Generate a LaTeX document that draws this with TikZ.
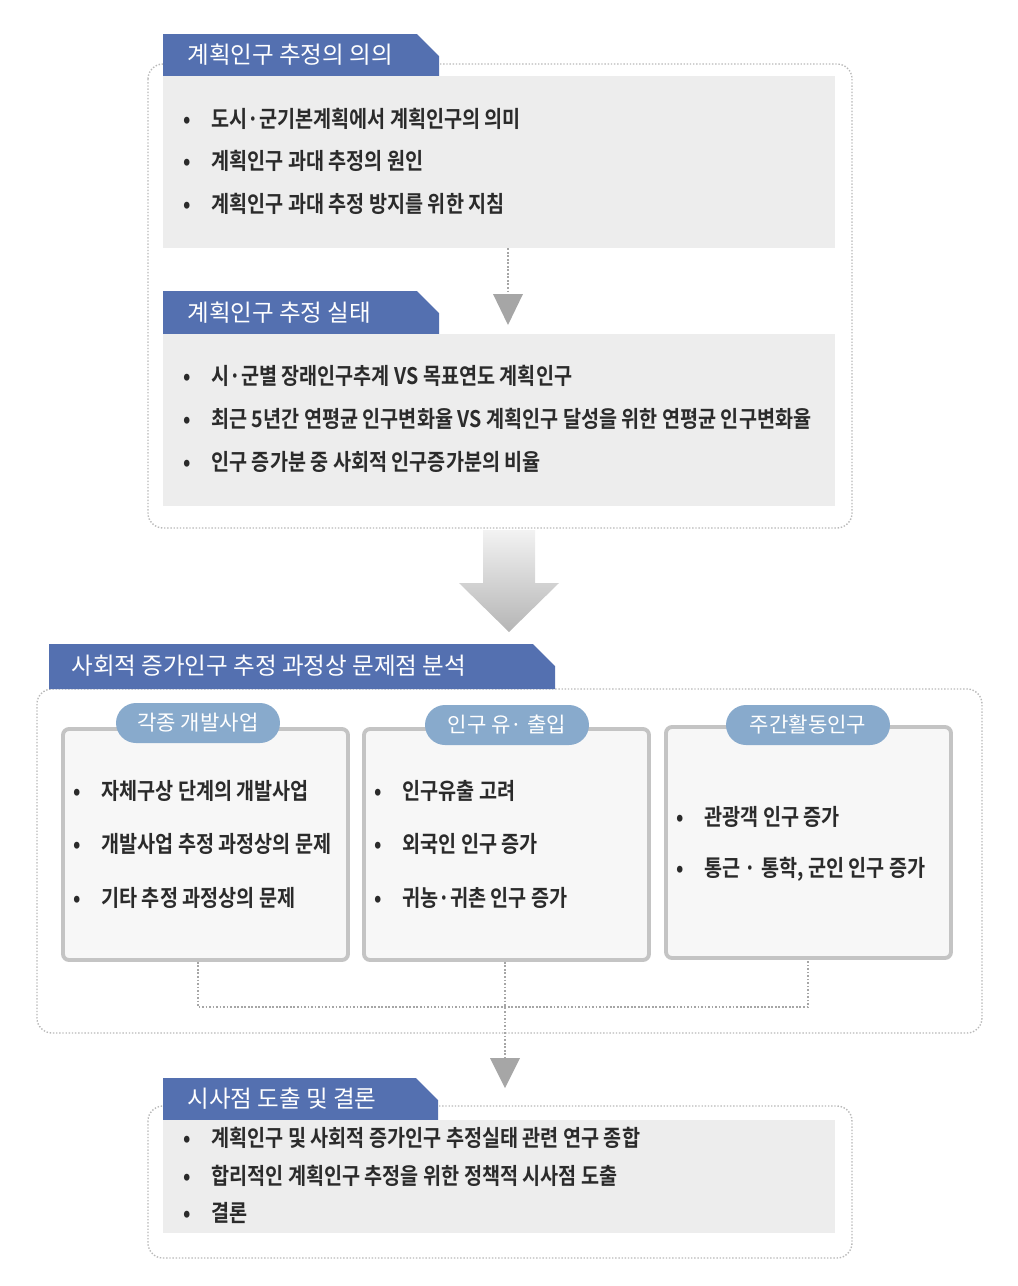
\documentclass[tikz,border=0pt]{standalone}
\usepackage{fontspec}
\setmainfont{Noto Sans CJK KR}
\newfontfamily\krbold{Noto Sans CJK KR Bold}[FakeStretch=0.86]
\usetikzlibrary{fit}
\definecolor{ink}{HTML}{2B2B2B}
\definecolor{hdblue}{HTML}{5470B0}
\definecolor{pillblue}{HTML}{88AACC}
\definecolor{panel}{HTML}{EDEDED}
\definecolor{boxln}{HTML}{C4C4C4}
\definecolor{tipgray}{HTML}{A6A6A6}
\newcommand{\itm}[1]{\makebox[0.56cm][l]{\textbullet}#1}

\begin{document}
\begin{tikzpicture}[x=0.02cm,y=-0.02cm,
  frame/.style={draw=gray!55,densely dotted,line width=0.8pt,rounded corners=0.3cm},
  tab/.style={fill=hdblue},
  tabtext/.style={anchor=west,inner sep=0pt,text=white,font=\fontsize{13.4}{15}\selectfont},
  panel/.style={fill=panel,inner sep=0pt},
  item/.style={anchor=west,inner sep=0pt,text=ink,font=\krbold\fontsize{13}{15}\selectfont},
  subbox/.style={draw=boxln,line width=2.2pt,fill=gray!6,rounded corners=0.12cm,inner sep=0pt},
  pill/.style={fill=pillblue,text=white,rounded corners=0.4cm,minimum width=3.28cm,minimum height=0.8cm,inner sep=0pt,font=\fontsize{12}{14}\selectfont},
  link/.style={draw=gray!70,densely dotted,line width=1pt},
  tip/.style={fill=tipgray}]
  \useasboundingbox (0,0) rectangle (1018,1286);
  % upper block
  \draw[frame] (148,64) rectangle (852,528);
  \fill[tab] (163,76) -- (163,34) -- (417,34) -- (439,56) -- (439,76) -- cycle;
  \node[tabtext] (h1) at (187,55) {계획인구 추정의 의의};
  \node[panel,fit={(163,76) (835,248)}] (p1) {};
  \node[item] (a1) at (183,119) {\itm{도시·군기본계획에서 계획인구의 의미}};
  \node[item] (a2) at (183,161) {\itm{계획인구 과대 추정의 원인}};
  \node[item] (a3) at (183,204) {\itm{계획인구 과대 추정 방지를 위한 지침}};
  \coordinate (t1) at (508,294);
  \draw[link] (t1 |- p1.south) -- (t1);
  \fill[tip] (t1) ++(-15,0) -- ++(30,0) -- ++(-15,31) -- cycle;
  \fill[tab] (163,334) -- (163,291) -- (417,291) -- (439,313) -- (439,334) -- cycle;
  \node[tabtext] (h2) at (187,313) {계획인구 추정 실태};
  \node[panel,fit={(163,334) (835,506)}] (p2) {};
  \node[item] (b1i) at (183,376) {\itm{시·군별 장래인구추계 VS 목표연도 계획인구}};
  \node[item] (b2i) at (183,419) {\itm{최근 5년간 연평균 인구변화율 VS 계획인구 달성을 위한 연평균 인구변화율}};
  \node[item] (b3i) at (183,462) {\itm{인구 증가분 중 사회적 인구증가분의 비율}};
  % big arrow
  \shade[top color=gray!10,bottom color=gray!58] (483,530) -- (535,530) -- (535,583) -- (559,583)
    -- (509,632) -- (459,583) -- (483,583) -- cycle;
  % middle block
  \draw[frame] (37,689) rectangle (982,1033);
  \fill[tab] (49,689) -- (49,644) -- (533,644) -- (555,666) -- (555,689) -- cycle;
  \node[tabtext] (h3) at (71,666) {사회적 증가인구 추정 과정상 문제점 분석};
  \node[subbox,fit={(63,729) (348,960)}] (b1) {};
  \node[subbox,fit={(364,729) (649,960)}] (b2) {};
  \node[subbox,fit={(666,727) (951,958)}] (b3) {};
  \node[pill] (pl1) at (198,723) {각종 개발사업};
  \node[pill] (pl2) at (507,725) {인구 유· 출입};
  \node[pill] (pl3) at (808,725) {주간활동인구};
  \node[item] (c1) at (73,791) {\itm{자체구상 단계의 개발사업}};
  \node[item] (c2) at (73,844) {\itm{개발사업 추정 과정상의 문제}};
  \node[item] (c3) at (73,898) {\itm{기타 추정 과정상의 문제}};
  \node[item] (d1) at (374,791) {\itm{인구유출 고려}};
  \node[item] (d2) at (374,844) {\itm{외국인 인구 증가}};
  \node[item] (d3) at (374,898) {\itm{귀농·귀촌 인구 증가}};
  \node[item] (e1) at (676,817) {\itm{관광객 인구 증가}};
  \node[item] (e2) at (676,869) {\itm{통근 · 통학, 군인 인구 증가}};
  \coordinate (m) at (505,1007);
  \coordinate (t2) at (505,1058);
  \draw[link] (pl1 |- b1.south) |- (m) -| (pl3 |- b3.south);
  \draw[link] (t2 |- b2.south) -- (t2);
  \fill[tip] (t2) ++(-15,0) -- ++(30,0) -- ++(-15,30) -- cycle;
  % lower block
  \draw[frame] (148,1106) rectangle (852,1258);
  \fill[tab] (163,1120) -- (163,1078) -- (416,1078) -- (438,1100) -- (438,1120) -- cycle;
  \node[tabtext] (h4) at (187,1099) {시사점 도출 및 결론};
  \node[panel,fit={(163,1120) (835,1233)}] (p4) {};
  \node[item] (f1) at (183,1138) {\itm{계획인구 및 사회적 증가인구 추정실태 관련 연구 종합}};
  \node[item] (f2) at (183,1176) {\itm{합리적인 계획인구 추정을 위한 정책적 시사점 도출}};
  \node[item] (f3) at (183,1213) {\itm{결론}};
\end{tikzpicture}
\end{document}
